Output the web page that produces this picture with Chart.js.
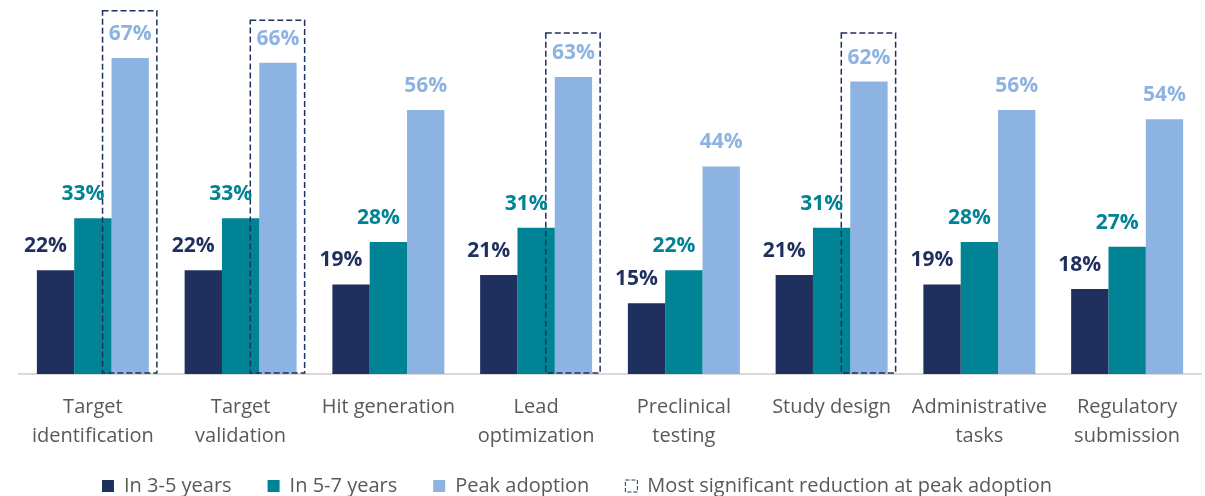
<!DOCTYPE html>
<html lang="en">
<head>
<meta charset="UTF-8">
<title>AI adoption across drug development stages</title>
<script src="https://cdn.jsdelivr.net/npm/chart.js"></script>
<style>
  html, body { margin: 0; padding: 0; background: #fff; }
  #wrap { width: 1205px; height: 496px; }
</style>
</head>
<body>
<div id="wrap"><canvas id="chart"></canvas></div>
<script>
  const categories = [
    ["Target", "identification"], ["Target", "validation"], "Hit generation",
    ["Lead", "optimization"], ["Preclinical", "testing"], "Study design",
    ["Administrative", "tasks"], ["Regulatory", "submission"]
  ];
  const in3to5 = [22, 22, 19, 21, 15, 21, 19, 18];
  const in5to7 = [33, 33, 28, 31, 22, 31, 28, 27];
  const peakAdoption = [67, 66, 56, 63, 44, 62, 56, 54];
  // stages boxed as "most significant reduction", box top given in % units
  const reductionBoxTop = [77, 75, null, 72.3, null, 72.3, null, null];

  const NAVY = '#1f305e', TEAL = '#008394', LIGHT = '#8db3e2', GREY = '#595959';
  const FONT = '"Open Sans", "Liberation Sans", sans-serif';

  // value labels, the two left ones sit a little to the left of their bar
  const labelShift = [-10, -10, 0];
  const barLabels = {
    id: 'barLabels',
    afterDatasetsDraw(chart) {
      const ctx = chart.ctx;
      ctx.save();
      ctx.font = 'bold 21px ' + FONT;
      ctx.textAlign = 'center';
      ctx.textBaseline = 'middle';
      chart.data.datasets.forEach((ds, i) => {
        ctx.fillStyle = ds.backgroundColor;
        chart.getDatasetMeta(i).data.forEach((bar, j) => {
          ctx.fillText(ds.data[j] + '%', bar.x + labelShift[i], bar.y - 24);
        });
      });
      ctx.restore();
    }
  };

  const reductionBoxes = {
    id: 'reductionBoxes',
    afterDatasetsDraw(chart) {
      const ctx = chart.ctx;
      const y = chart.scales.y;
      ctx.save();
      ctx.strokeStyle = NAVY;
      ctx.lineWidth = 1.5;
      ctx.setLineDash([6, 3]);
      chart.getDatasetMeta(2).data.forEach((bar, j) => {
        if (reductionBoxTop[j] == null) return;
        const left = bar.x - bar.width / 2 - 9;
        const right = bar.x + bar.width / 2 + 8;
        const top = y.getPixelForValue(reductionBoxTop[j]);
        const bottom = y.getPixelForValue(0) - 1;
        ctx.strokeRect(left, top, right - left, bottom - top);
      });
      ctx.restore();
    }
  };

  // legend in the original sits a bit left of centre and close under the labels
  const legendNudge = {
    id: 'legendNudge',
    afterLayout(chart) {
      const lg = chart.legend;
      lg.left -= 33; lg.right -= 33;
      lg.top -= 12; lg.bottom -= 12;
    }
  };

  new Chart(document.getElementById('chart'), {
    type: 'bar',
    data: {
      labels: categories,
      datasets: [
        { label: 'In 3-5 years', data: in3to5, backgroundColor: NAVY },
        { label: 'In 5-7 years', data: in5to7, backgroundColor: TEAL },
        { label: 'Peak adoption', data: peakAdoption, backgroundColor: LIGHT }
      ]
    },
    options: {
      responsive: true,
      maintainAspectRatio: false,
      animation: false,
      layout: { padding: { left: 19, right: 4, top: 0, bottom: -22 } },
      datasets: { bar: { categoryPercentage: 0.758, barPercentage: 1 } },
      scales: {
        x: {
          grid: { display: false, drawTicks: false },
          border: { display: true, color: '#d9d9d9', width: 2 },
          ticks: {
            color: GREY, padding: 19, maxRotation: 0, autoSkip: false,
            font: { family: FONT, size: 20, lineHeight: 1.45 }
          },
          afterFit(scale) { scale.height = 78; }
        },
        y: { display: false, min: 0, max: 79.3 }
      },
      plugins: {
        tooltip: { enabled: false },
        legend: {
          position: 'bottom',
          labels: {
            boxWidth: 12, boxHeight: 12, padding: 36, color: GREY,
            font: { family: FONT, size: 20 },
            generateLabels(chart) {
              const items = chart.data.datasets.map((ds, i) => ({
                text: ds.label, fillStyle: ds.backgroundColor, strokeStyle: ds.backgroundColor,
                lineWidth: 0, fontColor: GREY, datasetIndex: i, hidden: false
              }));
              items.push({
                text: 'Most significant reduction at peak adoption', fillStyle: '#ffffff',
                strokeStyle: NAVY, lineWidth: 1, lineDash: [4, 2], fontColor: GREY, hidden: false
              });
              return items;
            }
          }
        }
      }
    },
    plugins: [reductionBoxes, barLabels, legendNudge]
  });
</script>
</body>
</html>
